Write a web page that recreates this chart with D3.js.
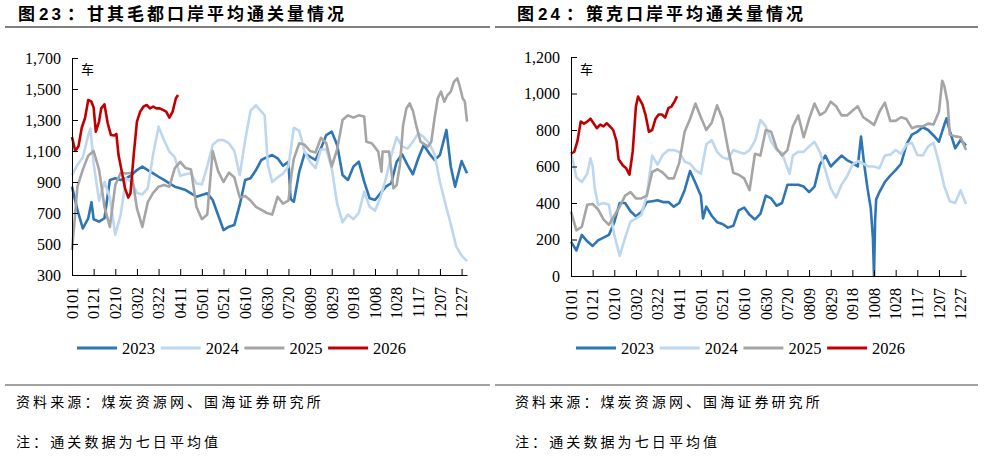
<!DOCTYPE html>
<html>
<head>
<meta charset="utf-8"/>
<title>口岸平均通关量情况</title>
<script src="https://d3js.org/d3.v7.min.js"></script>
<style>
body { margin: 0; background: #fff; }
</style>
</head>
<body>
<svg id="chart" width="986" height="456"></svg>

<script>
// ---------------------------------------------------------------------------
// data: [day of year, 车]
const years = ["2023", "2024", "2025", "2026"]
const colors = ["#2E75B6", "#BDD7EE", "#A5A5A5", "#C00000"]
const dateLabels = ["0101","0121","0210","0302","0322","0411","0501","0521","0610",
                    "0630","0720","0809","0829","0918","1008","1028","1117","1207","1227"]

// 甘其毛都
const gqmd2023 = [[0,870],[5,720],[10,600],[15,666],[18,770],[20,660],[25,644],[30,666],[35,913],
  [40,924],[45,913],[50,924],[55,945],[60,977],[65,999],[70,977],[75,956],[80,934],[85,913],[90,891],
  [95,870],[100,859],[105,848],[110,827],[115,805],[120,816],[125,827],[130,784],[135,687],[140,590],
  [145,612],[150,623],[155,752],[160,913],[165,924],[170,977],[175,1042],[180,1060],[185,1074],
  [190,1053],[195,1005],[200,1031],[202,790],[205,773],[210,967],[215,1085],[220,1063],[225,1042],
  [230,1117],[235,1203],[240,1225],[245,1139],[250,945],[255,913],[260,999],[265,1031],[270,902],
  [275,795],[280,784],[285,827],[290,870],[295,892],[300,1031],[305,1079],[310,1010],[315,950],
  [320,1053],[325,1139],[330,1085],[335,1042],[340,1074],[346,1236],[350,1000],[354,870],[360,1035],
  [365,956]]
const gqmd2024 = [[0,945],[5,1010],[10,1060],[15,1200],[17,1246],[20,1020],[25,780],[30,900],[35,800],
  [40,560],[45,690],[50,924],[55,900],[60,830],[65,820],[70,860],[75,1080],[80,1257],[85,1170],
  [90,1096],[95,1060],[100,940],[105,950],[110,956],[115,890],[120,885],[125,1000],[130,1140],
  [135,1170],[140,1170],[145,1150],[150,1100],[155,945],[160,1170],[165,1360],[170,1395],[175,1354],
  [178,1330],[181,1010],[185,900],[190,930],[195,955],[200,1000],[205,1250],[210,1230],[215,1095],
  [220,1030],[225,990],[230,1110],[235,1110],[240,990],[245,760],[250,640],[255,690],[260,660],
  [265,700],[270,838],[275,740],[280,715],[285,800],[290,920],[295,1070],[300,1190],[305,1130],
  [310,1115],[315,1160],[320,1215],[325,1190],[330,1150],[335,1080],[340,900],[345,760],[350,630],
  [355,485],[360,425],[365,390]]
const gqmd2025 = [[0,460],[3,700],[5,870],[10,980],[15,1070],[20,1100],[25,980],[30,740],[35,610],
  [40,880],[45,960],[50,955],[55,960],[60,730],[65,610],[70,770],[75,830],[80,870],[85,880],[90,870],
  [95,990],[100,1030],[105,990],[110,980],[115,740],[120,660],[125,690],[130,1100],[135,970],
  [140,900],[145,960],[150,930],[155,800],[160,810],[165,780],[170,740],[175,720],[180,700],[185,690],
  [190,805],[195,760],[200,780],[203,960],[205,1050],[210,1150],[215,1140],[220,1100],[225,1090],
  [230,1185],[235,1150],[240,1000],[245,1110],[250,1300],[255,1330],[260,1315],[265,1330],[270,1322],
  [272,1160],[277,1150],[283,1096],[286,967],[287,1096],[293,1096],[297,859],[300,880],[303,1010],
  [306,1268],[309,1375],[312,1407],[315,1360],[318,1268],[322,1160],[329,1128],[332,1160],[335,1311],
  [338,1440],[341,1483],[344,1418],[347,1461],[350,1483],[353,1547],[356,1569],[358,1526],[361,1440],
  [363,1420],[365,1290]]
const gqmd2026 = [[0,1190],[3,1100],[6,1130],[9,1250],[12,1311],[15,1429],[18,1418],[20,1380],
  [22,1225],[25,1290],[27,1375],[30,1401],[33,1279],[36,1203],[39,1200],[41,1210],[43,1074],[46,967],
  [49,859],[52,800],[54,827],[57,1074],[60,1289],[63,1354],[66,1386],[69,1397],[72,1375],[75,1386],
  [78,1375],[81,1375],[84,1365],[87,1354],[90,1315],[93,1354],[96,1440],[98,1461]]

// 策克
const ck2023 = [[0,188],[5,140],[10,225],[15,190],[20,165],[25,195],[30,210],[35,225],[40,295],
  [45,400],[50,400],[55,355],[60,327],[65,350],[70,405],[75,410],[80,415],[85,405],[90,405],[95,380],
  [100,400],[105,470],[110,575],[115,510],[120,440],[122,316],[125,380],[130,330],[135,295],[140,285],
  [145,265],[150,275],[155,360],[160,375],[165,335],[170,310],[175,340],[180,440],[185,425],[190,385],
  [195,400],[200,500],[205,500],[210,500],[215,490],[220,460],[225,490],[230,610],[235,660],[240,600],
  [245,630],[250,660],[255,635],[260,620],[265,600],[268,764],[271,608],[274,480],[277,371],[279,206],
  [280,0],[281,300],[282,420],[285,460],[290,515],[295,550],[300,580],[305,615],[310,720],[315,775],
  [320,790],[325,815],[330,800],[335,770],[340,736],[345,830],[347,864],[350,795],[355,700],[360,745],
  [365,715]]
const ck2024 = [[0,681],[5,540],[10,515],[15,560],[18,645],[20,600],[22,480],[25,390],[30,400],
  [35,390],[40,225],[45,110],[50,210],[55,298],[60,315],[65,335],[70,440],[75,660],[80,610],[85,665],
  [90,690],[95,690],[100,680],[105,627],[110,615],[115,580],[120,560],[125,720],[130,745],[135,680],
  [140,650],[145,640],[150,690],[155,680],[160,670],[165,690],[170,740],[175,855],[180,820],[185,735],
  [190,690],[195,675],[200,590],[202,560],[205,660],[210,680],[215,680],[220,710],[225,735],[230,680],
  [235,580],[240,480],[245,430],[250,500],[255,545],[260,610],[265,630],[270,615],[275,600],[280,600],
  [285,590],[290,660],[295,665],[300,690],[305,670],[310,720],[315,730],[320,663],[325,660],[330,710],
  [335,730],[340,620],[345,490],[350,410],[355,400],[360,470],[365,395]]
const ck2025 = [[0,353],[5,250],[10,270],[15,390],[20,395],[25,365],[30,310],[35,280],[40,330],
  [45,380],[50,440],[55,460],[60,425],[65,425],[70,440],[75,570],[80,585],[85,565],[90,535],[95,535],
  [100,620],[105,790],[110,860],[115,945],[120,870],[125,800],[130,840],[135,935],[140,860],[145,700],
  [150,565],[155,555],[160,535],[165,470],[170,670],[175,660],[180,800],[185,790],[190,700],[195,660],
  [200,690],[205,820],[210,880],[215,760],[220,860],[225,945],[230,882],[235,900],[240,955],[245,930],
  [250,880],[255,880],[260,905],[265,930],[270,870],[275,850],[280,827],[285,900],[290,950],[295,850],
  [300,850],[305,870],[310,860],[315,810],[320,820],[325,820],[330,835],[335,830],[340,900],[343,1070],
  [345,1040],[348,950],[350,775],[355,765],[360,760],[365,690]]
const ck2026 = [[0,672],[3,680],[6,740],[9,846],[12,835],[15,846],[18,862],[21,836],[24,810],[27,830],
  [30,820],[33,837],[36,820],[39,800],[42,740],[44,640],[48,605],[51,590],[54,555],[57,680],[60,930],
  [62,983],[66,940],[69,880],[72,790],[75,800],[78,860],[81,885],[84,885],[87,868],[90,920],[93,930],
  [96,960],[98,985]]

const gqmdTicks = [300, 500, 700, 900, 1100, 1300, 1500, 1700]
const ckTicks = [0, 200, 400, 600, 800, 1000, 1200]
// ---------------------------------------------------------------------------

const SERIF = '"Liberation Serif"'
const CJK = '"Noto Sans CJK SC"'
const SANS = '"Liberation Sans"'

const svg = d3.select("#chart")

const panels = [
  { left: 0, num: "23", name: "甘其毛都口岸平均通关量情况",
    series: [gqmd2023, gqmd2024, gqmd2025, gqmd2026], ticks: gqmdTicks,
    x0: 72, x1: 467, y0: 275, y1: 58, ruleX: [5, 490] },
  { left: 499, num: "24", name: "策克口岸平均通关量情况",
    series: [ck2023, ck2024, ck2025, ck2026], ticks: ckTicks,
    x0: 571, x1: 966, y0: 276, y1: 57, ruleX: [495, 978] }
]

panels.forEach(drawPanel)

function drawPanel(p) {
  const g = svg.append("g")

  // title + rule
  const t = g.append("text").attr("x", p.left + 18).attr("y", 20)
    .style("font-family", CJK).style("font-size", "17px")
    .style("font-weight", "bold").style("letter-spacing", "3px")
  t.append("tspan").text("图")
  t.append("tspan").attr("dx", 1).style("font-family", SANS).text(p.num)
  t.append("tspan").attr("dx", 3).text("：" + p.name)
  g.append("line").attr("x1", p.ruleX[0]).attr("x2", p.ruleX[1])
    .attr("y1", 27).attr("y2", 27).attr("stroke", "#000").attr("stroke-width", 1)

  const x = d3.scaleLinear().domain([0, 365]).range([p.x0, p.x1])
  const y = d3.scaleLinear().domain(d3.extent(p.ticks)).range([p.y0, p.y1])

  // lines
  const line = d3.line().x(d => x(d[0])).y(d => y(d[1]))
  p.series.forEach((s, i) => {
    g.append("path").datum(s).attr("d", line)
      .attr("fill", "none").attr("stroke", colors[i]).attr("stroke-width", 2.6)
      .attr("stroke-linejoin", "round")
  })

  // axes
  const yAxis = d3.axisLeft(y).tickValues(p.ticks).tickFormat(d3.format(","))
    .tickSizeInner(-6).tickSizeOuter(0).tickPadding(11)
  const ga = g.append("g").attr("transform", `translate(${p.x0},0)`).call(yAxis)
  ga.attr("font-family", null)
  ga.selectAll("text").style("font-family", SERIF).style("font-size", "16px").attr("fill", "#000")

  const xAxis = d3.axisBottom(x).tickValues(d3.range(0, 361, 20))
    .tickFormat((d, i) => dateLabels[i]).tickSizeInner(-6).tickSizeOuter(0)
  const gx = g.append("g").attr("transform", `translate(0,${p.y0})`).call(xAxis)
  gx.attr("font-family", null)
  gx.selectAll("text").style("font-family", SERIF).style("font-size", "16px").attr("fill", "#000")
    .attr("transform", "rotate(-90)").attr("text-anchor", "end")
    .attr("x", -12).attr("y", 0).attr("dy", "0.33em")
  g.selectAll(".domain, .tick line").attr("stroke", "#000")

  g.append("text").attr("x", p.x0 + 9).attr("y", 74)
    .style("font-family", CJK).style("font-size", "13px").text("车")

  // legend
  years.forEach((yr, i) => {
    const lx = p.left + 77 + i * 83.7
    g.append("line").attr("x1", lx).attr("x2", lx + 40).attr("y1", 348).attr("y2", 348)
      .attr("stroke", colors[i]).attr("stroke-width", 3)
    g.append("text").attr("x", lx + 45).attr("y", 354)
      .style("font-family", SERIF).style("font-size", "16.5px").text(yr)
  })

  // footer
  g.append("line").attr("x1", p.ruleX[0]).attr("x2", p.ruleX[1])
    .attr("y1", 385).attr("y2", 385).attr("stroke", "#444").attr("stroke-width", 1)
  g.append("text").attr("x", p.left + 16).attr("y", 407)
    .style("font-family", CJK).style("font-size", "14px").style("letter-spacing", "3.1px")
    .text("资料来源：煤炭资源网、国海证券研究所")
  g.append("text").attr("x", p.left + 16).attr("y", 447)
    .style("font-family", CJK).style("font-size", "14px").style("letter-spacing", "3.1px")
    .text("注：通关数据为七日平均值")
}
</script>
</body>
</html>
